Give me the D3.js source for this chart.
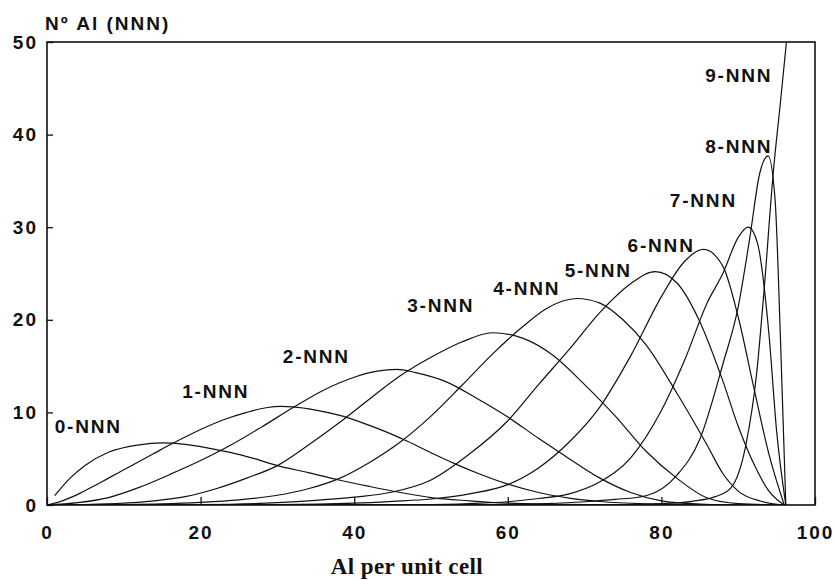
<meta charset="utf-8">
<html>
<head>
  <script src="https://d3js.org/d3.v7.min.js"></script>
  <style>
    body { margin: 0; background: #fff; }
    text { font-family: "Liberation Sans", Arial, sans-serif; font-weight: bold; fill: #111; }
  </style>
</head>
<body>
  <svg id="svg" width="835" height="580"></svg>
  <script>
    // values: Al per unit cell (x) vs number of Al with k NNN (y)
    let xTicks = [0, 20, 40, 60, 80, 100];
    let yTicks = [0, 10, 20, 30, 40, 50];
    let seriesNames = ["0-NNN", "1-NNN", "2-NNN", "3-NNN", "4-NNN", "5-NNN", "6-NNN", "7-NNN", "8-NNN", "9-NNN"];

    let nnn0x = [1, 3, 5, 8, 12, 15, 18, 21, 24, 27, 30, 34, 38, 42, 46, 50, 55, 60, 66, 72, 80, 96];
    let nnn0y = [1.0, 2.9, 4.3, 5.7, 6.5, 6.7, 6.55, 6.15, 5.65, 5.0, 4.25, 3.5, 2.7, 2.0, 1.35, 0.8, 0.45, 0.2, 0.08, 0.03, 0, 0];

    let nnn1x = [0, 2, 4, 6, 8, 10, 12, 14, 16, 18, 20, 23, 26, 28.5, 30.5, 32, 35, 38, 41, 44, 47, 50, 53, 56, 60, 64, 68, 72, 78, 85, 96];
    let nnn1y = [0, 0.45, 1.15, 2.0, 2.9, 3.8, 4.7, 5.6, 6.5, 7.35, 8.15, 9.2, 10.0, 10.5, 10.65, 10.6, 10.25, 9.7, 8.9, 7.95, 6.85, 5.65, 4.5, 3.45, 2.25, 1.35, 0.75, 0.38, 0.12, 0.02, 0];

    let nnn2x = [0, 4, 8, 12, 16, 20, 24, 28, 32, 36, 40, 43, 45.5, 48, 52, 56, 60, 64, 68, 72, 76, 80, 85, 90, 96];
    let nnn2y = [0, 0.25, 0.8, 1.9, 3.3, 4.8, 6.5, 8.45, 10.5, 12.4, 13.8, 14.45, 14.65, 14.3, 13.3, 11.5, 9.5, 7.2, 5.0, 2.9, 1.35, 0.45, 0.1, 0, 0];

    let nnn3x = [0, 5, 10, 14, 18, 22, 26, 30, 34, 38, 42, 46, 50, 54, 58, 62, 66, 70, 74, 78, 82, 86, 90, 96];
    let nnn3y = [0, 0.05, 0.2, 0.45, 0.9, 1.75, 2.9, 4.25, 6.45, 8.85, 11.45, 13.95, 15.95, 17.6, 18.6, 18.0, 16.1, 13.0, 9.6, 5.8, 2.9, 0.75, 0.15, 0];

    let nnn4x = [0, 10, 15, 20, 25, 30, 34, 38, 42, 46, 50, 54, 58, 62, 65, 69, 72, 75, 78, 82, 86, 88, 90, 93, 96];
    let nnn4y = [0, 0.05, 0.12, 0.28, 0.55, 1.05, 1.75, 2.85, 4.6, 6.8, 9.6, 12.9, 16.3, 19.3, 21.2, 22.3, 21.8, 20.0, 17.3, 12.1, 6.4, 3.4, 1.5, 0.4, 0];

    let nnn5x = [0, 20, 30, 35, 40, 45, 50, 55, 60, 64, 68, 72, 76, 79.2, 82, 85, 88, 90, 92, 94, 96];
    let nnn5y = [0, 0.05, 0.25, 0.5, 0.85, 1.4, 2.7, 5.5, 9.1, 13.0, 16.8, 20.8, 23.9, 25.2, 24.0, 19.8, 13.4, 8.5, 4.5, 1.5, 0];

    let nnn6x = [0, 30, 40, 45, 50, 55, 60, 64, 68, 72, 76, 80, 83, 85.5, 88, 90, 92, 94, 96];
    let nnn6y = [0, 0.05, 0.2, 0.4, 0.65, 1.2, 2.2, 4.0, 6.8, 10.6, 16.1, 22.5, 26.3, 27.6, 25.8, 20.3, 12.8, 5.5, 0];

    let nnn7x = [0, 50, 55, 60, 64, 68, 72, 76, 80, 83, 86, 88, 90, 91.3, 92.5, 94, 95, 96.2];
    let nnn7y = [0, 0.05, 0.15, 0.35, 0.7, 1.2, 2.5, 5.1, 10.2, 15.6, 21.9, 25.0, 28.9, 30.0, 28.3, 18.5, 8.0, 0];

    let nnn8x = [0, 60, 65, 70, 74, 78, 82, 85, 88, 90, 91.5, 92.8, 93.9, 94.8, 95.5, 96.2];
    let nnn8y = [0, 0.05, 0.15, 0.35, 0.6, 1.0, 3.2, 7.1, 15.2, 21.4, 28.8, 35.8, 37.7, 33.0, 18.0, 0];

    let nnn9x = [0, 75, 80, 84, 87, 89, 91, 92.4, 93.3, 94.6, 95.5, 96.4];
    let nnn9y = [0, 0.05, 0.15, 0.4, 0.9, 1.8, 6.5, 14.2, 22.5, 36.2, 43.5, 51];

    let seriesX = [nnn0x, nnn1x, nnn2x, nnn3x, nnn4x, nnn5x, nnn6x, nnn7x, nnn8x, nnn9x];
    let seriesY = [nnn0y, nnn1y, nnn2y, nnn3y, nnn4y, nnn5y, nnn6y, nnn7y, nnn8y, nnn9y];

    // where each curve name sits (data units, left end of text baseline)
    let labelX = [1.0, 17.6, 30.7, 46.9, 58.1, 67.4, 75.6, 81.1, 85.7, 85.7];
    let labelY = [7.8, 11.55, 15.3, 20.8, 22.7, 24.6, 27.3, 32.2, 38.0, 45.7];

    let svg = d3.select("#svg");
    let x = d3.scaleLinear().domain([0, 100]).range([47, 815]);
    let y = d3.scaleLinear().domain([0, 50]).range([505, 42]);

    svg.append("defs").append("clipPath").attr("id", "plot")
      .append("rect")
      .attr("x", x(0)).attr("y", y(50))
      .attr("width", x(100) - x(0)).attr("height", y(0) - y(50));

    let line = d3.line()
      .x(d => x(d[0]))
      .y(d => y(d[1]))
      .curve(d3.curveMonotoneX);

    svg.append("g")
      .attr("clip-path", "url(#plot)")
      .selectAll("path")
      .data(seriesX.map((xs, i) => xs.map((v, j) => [v, seriesY[i][j]])))
      .enter().append("path")
      .attr("d", line)
      .attr("fill", "none")
      .attr("stroke", "#111")
      .attr("stroke-width", 1.2);

    // frame
    svg.append("rect")
      .attr("x", x(0)).attr("y", y(50))
      .attr("width", x(100) - x(0)).attr("height", y(0) - y(50))
      .attr("fill", "none").attr("stroke", "#111").attr("stroke-width", 1.6);

    let xAxis = svg.append("g")
      .attr("transform", `translate(0,${y(0)})`)
      .call(d3.axisBottom(x).tickValues(xTicks).tickSizeInner(-8).tickSizeOuter(0).tickPadding(21));
    let yAxis = svg.append("g")
      .attr("transform", `translate(${x(0)},0)`)
      .call(d3.axisLeft(y).tickValues(yTicks).tickSizeInner(-6).tickSizeOuter(0).tickPadding(9));

    [xAxis, yAxis].forEach(ax => {
      ax.select(".domain").remove();
      ax.selectAll("line").attr("stroke", "#111").attr("stroke-width", 1.3);
      ax.selectAll("text")
        .attr("fill", "#111")
        .style("font-family", '"Liberation Sans", Arial, sans-serif')
        .style("font-weight", "bold")
        .style("font-size", "19px")
        .style("letter-spacing", "2px");
    });

    svg.append("g").selectAll("text")
      .data(seriesNames)
      .enter().append("text")
      .attr("x", (d, i) => x(labelX[i]))
      .attr("y", (d, i) => y(labelY[i]))
      .style("font-size", "19px")
      .style("letter-spacing", "1.8px")
      .text(d => d);

    svg.append("text")
      .attr("x", 45).attr("y", 30)
      .style("font-size", "19px")
      .style("letter-spacing", "2px")
      .text("Nº Al (NNN)");

    svg.append("text")
      .attr("x", 407).attr("y", 574)
      .attr("text-anchor", "middle")
      .style("font-family", '"Liberation Serif", "Times New Roman", serif')
      .style("font-size", "23px")
      .style("letter-spacing", "0.4px")
      .text("Al per unit cell");
  </script>
</body>
</html>
